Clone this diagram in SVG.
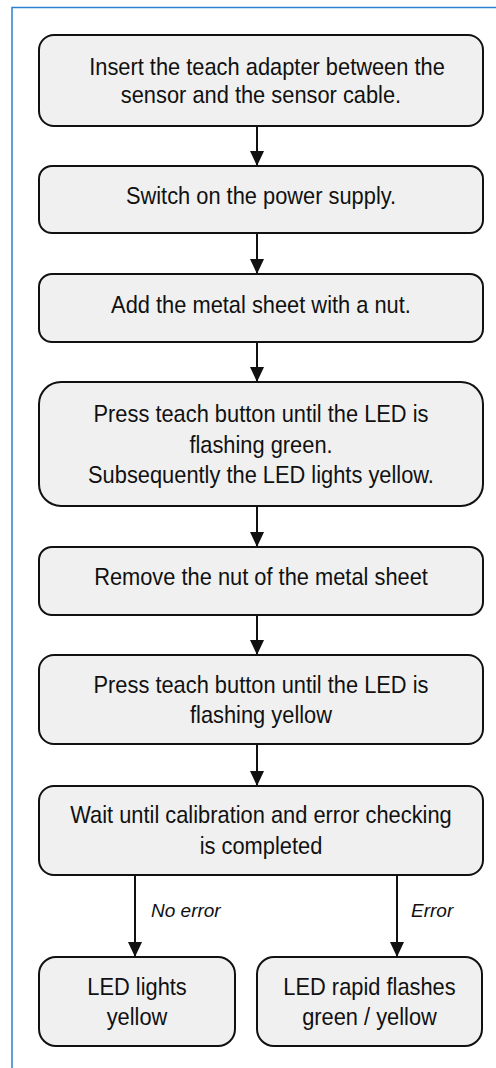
<svg xmlns="http://www.w3.org/2000/svg" width="496" height="1068" viewBox="0 0 496 1068">
<style>
.frame{fill:none;stroke:#2b80d0;stroke-width:1.5}
.box{fill:#f0f0f0;stroke:#111;stroke-width:2}
.t{font-family:"Liberation Sans",Arial,sans-serif;font-size:24px;fill:#111;text-anchor:middle}
.lbl{font-family:"Liberation Sans",Arial,sans-serif;font-size:19px;font-style:italic;fill:#111}
.conn line{stroke:#111;stroke-width:2}
</style>
<defs>
<marker id="ah" viewBox="0 0 15 14" refX="15" refY="7" markerWidth="15" markerHeight="14" markerUnits="userSpaceOnUse" orient="auto">
<path d="M0,0 L15,7 L0,14 Z" fill="#111"/>
</marker>
</defs>
<rect class="frame" x="12" y="7.5" width="500" height="1080"/>
<g class="conn">
<line x1="257" y1="126" x2="257" y2="166" marker-end="url(#ah)"/>
<line x1="257" y1="233" x2="257" y2="274" marker-end="url(#ah)"/>
<line x1="257" y1="342" x2="257" y2="382" marker-end="url(#ah)"/>
<line x1="257" y1="506" x2="257" y2="547" marker-end="url(#ah)"/>
<line x1="257" y1="615" x2="257" y2="655" marker-end="url(#ah)"/>
<line x1="257" y1="744" x2="257" y2="786" marker-end="url(#ah)"/>
<line x1="135" y1="875" x2="135" y2="957" marker-end="url(#ah)"/>
<line x1="397" y1="875" x2="397" y2="957" marker-end="url(#ah)"/>
<text class="lbl" x="151" y="917">No error</text>
<text class="lbl" x="411" y="917">Error</text>
</g>
<g id="n1">
<rect class="box" x="39" y="35" width="444" height="91" rx="15"/>
<text class="t" transform="matrix(0.91 0 0 1 267 0)" x="0" y="75">Insert the teach adapter between the</text>
<text class="t" transform="matrix(0.91 0 0 1 261 0)" x="0" y="103">sensor and the sensor cable.</text>
</g>
<g id="n2">
<rect class="box" x="39" y="166" width="444" height="67" rx="13"/>
<text class="t" transform="matrix(0.91 0 0 1 261 0)" x="0" y="204">Switch on the power supply.</text>
</g>
<g id="n3">
<rect class="box" x="39" y="274" width="444" height="68" rx="13"/>
<text class="t" transform="matrix(0.91 0 0 1 261 0)" x="0" y="313">Add the metal sheet with a nut.</text>
</g>
<g id="n4">
<rect class="box" x="39" y="382" width="444" height="124" rx="22"/>
<text class="t" transform="matrix(0.91 0 0 1 261 0)" x="0" y="422">Press teach button until the LED is</text>
<text class="t" transform="matrix(0.91 0 0 1 261 0)" x="0" y="453">flashing green.</text>
<text class="t" transform="matrix(0.91 0 0 1 261 0)" x="0" y="483">Subsequently the LED lights yellow.</text>
</g>
<g id="n5">
<rect class="box" x="39" y="547" width="444" height="68" rx="13"/>
<text class="t" transform="matrix(0.91 0 0 1 261 0)" x="0" y="585">Remove the nut of the metal sheet</text>
</g>
<g id="n6">
<rect class="box" x="39" y="655" width="444" height="89" rx="15"/>
<text class="t" transform="matrix(0.91 0 0 1 261 0)" x="0" y="693">Press teach button until the LED is</text>
<text class="t" transform="matrix(0.91 0 0 1 261 0)" x="0" y="723">flashing yellow</text>
</g>
<g id="n7">
<rect class="box" x="39" y="786" width="444" height="89" rx="15"/>
<text class="t" transform="matrix(0.91 0 0 1 261 0)" x="0" y="823">Wait until calibration and error checking</text>
<text class="t" transform="matrix(0.91 0 0 1 261 0)" x="0" y="854">is completed</text>
</g>
<g id="n8">
<rect class="box" x="39" y="957" width="196" height="89" rx="17"/>
<text class="t" transform="matrix(0.91 0 0 1 137 0)" x="0" y="995">LED lights</text>
<text class="t" transform="matrix(0.91 0 0 1 137 0)" x="0" y="1025">yellow</text>
</g>
<g id="n9">
<rect class="box" x="257" y="957" width="225" height="89" rx="17"/>
<text class="t" transform="matrix(0.91 0 0 1 369.5 0)" x="0" y="995">LED rapid flashes</text>
<text class="t" transform="matrix(0.91 0 0 1 369.5 0)" x="0" y="1025">green / yellow</text>
</g>
</svg>
